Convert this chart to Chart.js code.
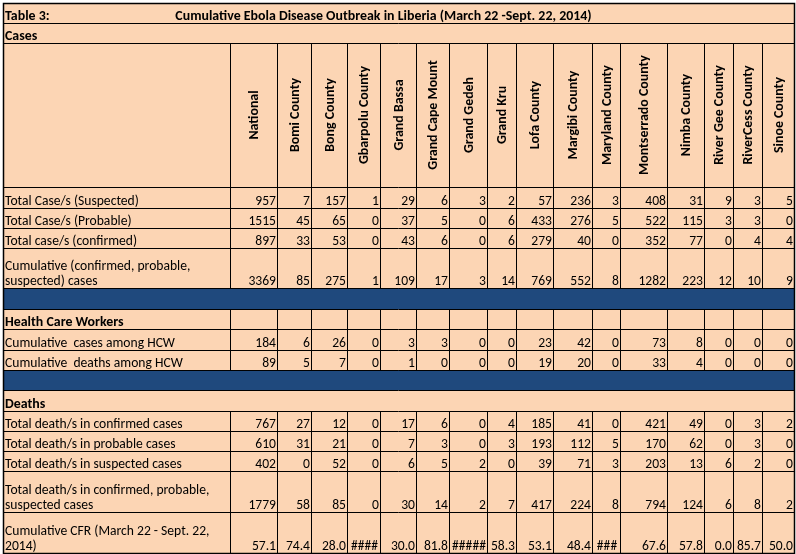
<!DOCTYPE html>
<html><head><meta charset="utf-8">
<script src="https://cdn.jsdelivr.net/npm/chart.js@4.4.1/dist/chart.umd.min.js"></script>
<style>html,body{margin:0;padding:0;background:#fff}#wrap{width:796px;height:554px;position:relative}</style>
</head><body><div id="wrap"><canvas id="c" width="796" height="554"></canvas></div>
<script>
// ---------- data ----------
const tableLabel = "Table 3:";
const tableTitle = "Cumulative Ebola Disease Outbreak in Liberia (March 22 -Sept. 22, 2014)";
const regions = ["National","Bomi County","Bong County","Gbarpolu County","Grand Bassa","Grand Cape Mount","Grand Gedeh","Grand Kru","Lofa County","Margibi County","Maryland County","Montserrado County","Nimba County","River Gee County","RiverCess County","Sinoe County"];
const sectionCases = "Cases";
const sectionHCW = "Health Care Workers";
const sectionDeaths = "Deaths";
const casesSuspected = [957,7,157,1,29,6,3,2,57,236,3,408,31,9,3,5];
const casesProbable  = [1515,45,65,0,37,5,0,6,433,276,5,522,115,3,3,0];
const casesConfirmed = [897,33,53,0,43,6,0,6,279,40,0,352,77,0,4,4];
const casesCumulative = [3369,85,275,1,109,17,3,14,769,552,8,1282,223,12,10,9];
const hcwCases  = [184,6,26,0,3,3,0,0,23,42,0,73,8,0,0,0];
const hcwDeaths = [89,5,7,0,1,0,0,0,19,20,0,33,4,0,0,0];
const deathsConfirmed = [767,27,12,0,17,6,0,4,185,41,0,421,49,0,3,2];
const deathsProbable  = [610,31,21,0,7,3,0,3,193,112,5,170,62,0,3,0];
const deathsSuspected = [402,0,52,0,6,5,2,0,39,71,3,203,13,6,2,0];
const deathsTotal = [1779,58,85,0,30,14,2,7,417,224,8,794,124,6,8,2];
const cfr = [57.1,74.4,28.0,"####",30.0,81.8,"#####",58.3,53.1,48.4,"###",67.6,57.8,0.0,85.7,50.0];

// ---------- layout (sizes / styles) ----------
const layoutCfg = {
  left: 3, top: 3,
  colWidths: [227,47,34,36,33,36,33,38,29,37,39,28,47,37,29,29,32],
  peach: "#FCD5B4", blue: "#1F497D", line: "#000000",
  font: "Carlito, Lato, 'Liberation Sans', sans-serif", size: 13.6, boldSize: 13.9
};

const rows = [
  {kind:"title", h:20},
  {kind:"section", h:20, label:sectionCases},
  {kind:"header", h:144},
  {kind:"data", h:21, label:["Total Case/s (Suspected)"], values:casesSuspected},
  {kind:"data", h:20, label:["Total Case/s (Probable)"], values:casesProbable},
  {kind:"data", h:20, label:["Total case/s (confirmed)"], values:casesConfirmed},
  {kind:"data", h:40, label:["Cumulative (confirmed, probable,","suspected) cases"], values:casesCumulative},
  {kind:"band", h:21},
  {kind:"subhead", h:20, label:sectionHCW},
  {kind:"data", h:21, label:["Cumulative  cases among HCW"], values:hcwCases},
  {kind:"data", h:20, label:["Cumulative  deaths among HCW"], values:hcwDeaths},
  {kind:"band", h:20},
  {kind:"section", h:21, label:sectionDeaths},
  {kind:"data", h:20, label:["Total death/s in confirmed cases"], values:deathsConfirmed},
  {kind:"data", h:20, label:["Total death/s in probable cases"], values:deathsProbable},
  {kind:"data", h:20, label:["Total death/s in suspected cases"], values:deathsSuspected},
  {kind:"data", h:41, label:["Total death/s in confirmed, probable,","suspected cases"], values:deathsTotal},
  {kind:"data", h:41, label:["Cumulative CFR (March 22 - Sept. 22,","2014)"], values:cfr, fixed:1}
];

const colEdges = [layoutCfg.left];
layoutCfg.colWidths.forEach(w => colEdges.push(colEdges[colEdges.length-1] + w));
const rowEdges = [layoutCfg.top];
rows.forEach(r => rowEdges.push(rowEdges[rowEdges.length-1] + r.h));

const tablePlugin = {
  id: "tablePlugin",
  beforeDatasetsDraw(chart) {
    const ctx = chart.ctx, xs = chart.scales.x, ys = chart.scales.y;
    const X = v => xs.getPixelForValue(v), Y = v => ys.getPixelForValue(v);
    const x0 = X(colEdges[0]), x1 = X(colEdges[colEdges.length-1]);
    const F = (b) => b ? ("bold " + layoutCfg.boldSize + "px " + layoutCfg.font) : (layoutCfg.size + "px " + layoutCfg.font);
    ctx.save();
    // backgrounds
    ctx.fillStyle = layoutCfg.peach;
    ctx.fillRect(x0, Y(rowEdges[0]), x1-x0, Y(rowEdges[rowEdges.length-1]) - Y(rowEdges[0]));
    rows.forEach((r,i) => {
      if (r.kind === "band") {
        ctx.fillStyle = layoutCfg.blue;
        ctx.fillRect(x0, Y(rowEdges[i]), x1-x0, Y(rowEdges[i+1]) - Y(rowEdges[i]));
      }
    });
    // text
    ctx.fillStyle = "#000";
    ctx.textBaseline = "alphabetic";
    rows.forEach((r,i) => {
      const yt = Y(rowEdges[i]), yb = Y(rowEdges[i+1]);
      const base = yb - 3.5;
      if (r.kind === "title") {
        ctx.font = F(true); ctx.textAlign = "left";
        ctx.fillText(tableLabel, x0 + 2, base);
        ctx.textAlign = "center";
        ctx.fillText(tableTitle, X(383.5), base);
      } else if (r.kind === "section" || r.kind === "subhead") {
        ctx.font = F(true); ctx.textAlign = "left";
        ctx.fillText(r.label, x0 + 2, base);
      } else if (r.kind === "header") {
        ctx.font = F(true);
        regions.forEach((name, c) => {
          const cx = (X(colEdges[c+1]) + X(colEdges[c+2])) / 2 + 1.5;
          const cy = (yt + yb) / 2;
          ctx.save();
          ctx.translate(cx, cy); ctx.rotate(-Math.PI/2);
          ctx.textAlign = "center"; ctx.textBaseline = "middle";
          ctx.fillText(name, 0, 0);
          ctx.restore();
        });
      } else if (r.kind === "data") {
        ctx.font = F(false); ctx.textAlign = "left";
        const n = r.label.length;
        r.label.forEach((t, k) => ctx.fillText(t, x0 + 2, base - (n-1-k) * 15));
        r.values.forEach((v, c) => {
          const cl = X(colEdges[c+1]), cr = X(colEdges[c+2]);
          if (typeof v === "string") {
            ctx.textAlign = "center";
            ctx.fillText(v, (cl+cr)/2 + 1, base);
          } else {
            ctx.textAlign = "right";
            ctx.fillText(r.fixed ? v.toFixed(r.fixed) : String(v), cr - 1, base);
          }
        });
      }
    });
    // grid lines
    ctx.strokeStyle = layoutCfg.line; ctx.lineWidth = 1;
    ctx.beginPath();
    rowEdges.forEach(e => { const y = Math.round(Y(e)) + 0.5; ctx.moveTo(x0, y); ctx.lineTo(x1, y); });
    rows.forEach((r,i) => {
      if (r.kind === "header" || r.kind === "data" || r.kind === "subhead") {
        const ya = Math.round(Y(rowEdges[i])) + 0.5, yb2 = Math.round(Y(rowEdges[i+1])) + 0.5;
        colEdges.forEach((e, c) => {
          if (c === 0 || c === colEdges.length-1) return;
          const x = Math.round(X(e)) + 0.5;
          ctx.moveTo(x, ya); ctx.lineTo(x, yb2);
        });
      }
    });
    ctx.stroke();
    // outer border
    ctx.lineWidth = 1.5;
    ctx.strokeRect(Math.round(x0)+0.5, Math.round(Y(rowEdges[0]))+0.5, Math.round(x1-x0), Math.round(Y(rowEdges[rowEdges.length-1]) - Y(rowEdges[0])));
    ctx.restore();
  }
};

new Chart(document.getElementById("c"), {
  type: "scatter",
  data: { datasets: [{ data: [], pointRadius: 0 }] },
  options: {
    responsive: false, animation: false,
    layout: { padding: 0 },
    plugins: { legend: { display: false }, tooltip: { enabled: false }, title: { display: false } },
    scales: {
      x: { type: "linear", min: 0, max: 796, display: false },
      y: { type: "linear", min: 0, max: 554, reverse: true, display: false }
    }
  },
  plugins: [tablePlugin]
});
</script></body></html>
